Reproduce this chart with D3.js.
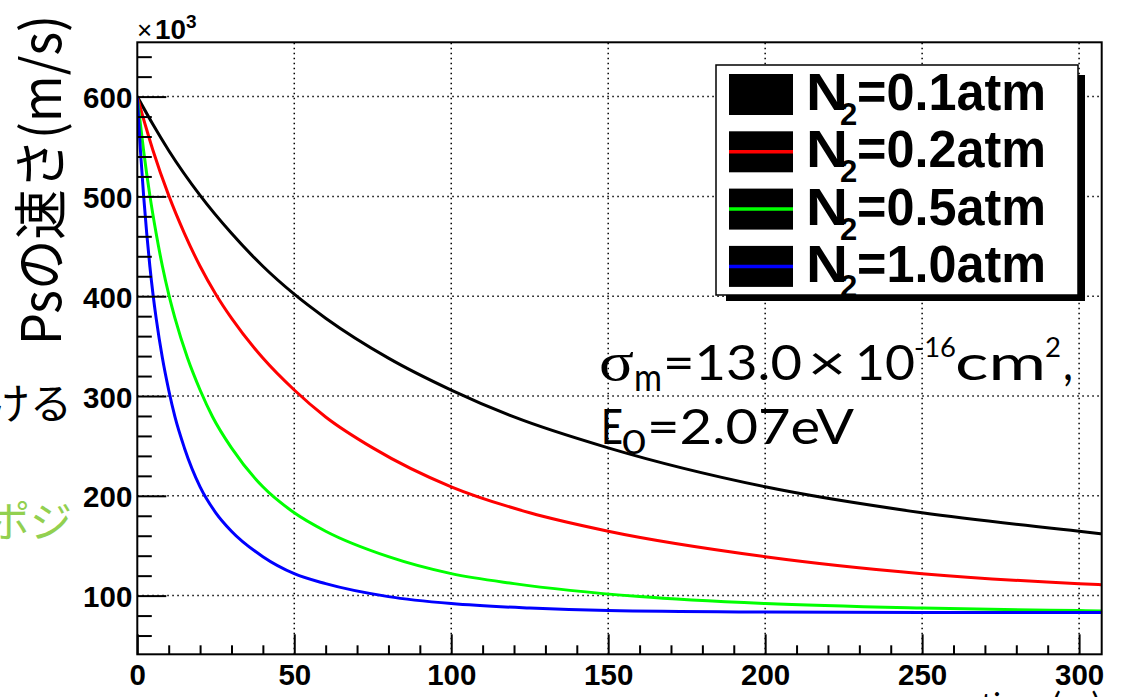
<!DOCTYPE html>
<html>
<head>
<meta charset="utf-8">
<script src="https://cdn.jsdelivr.net/npm/d3@7"></script>
<style>
  body { margin: 0; background: #fff; }
  svg { display: block; }
</style>
</head>
<body>
<svg id="chart" width="1121" height="697"></svg>
<script>
// Ps speed (x10^3 m/s) against time (ns) for four N2 pressures
const pressureLabels = ["0.1", "0.2", "0.5", "1.0"];
const seriesColors = ["#000000", "#ff0000", "#00ff00", "#0000ff"];

const timeN01 = [0, 5, 10, 20, 30, 40, 50, 60, 80, 100, 120, 150, 200, 250, 300, 307];
const speedN01 = [600, 572, 546, 501, 463, 430, 402, 378, 338, 306, 279, 248, 209, 183, 164.5, 162];

const timeN02 = [0, 2.5, 5, 10, 15, 20, 25, 30, 40, 50, 60, 75, 100, 125, 150, 200, 250, 300, 307];
const speedN02 = [600, 572, 546, 501, 463, 430, 402, 378, 338, 306, 279, 248, 209, 183, 164.5, 139, 122, 112, 111];

const timeN05 = [0, 1, 2, 4, 6, 8, 10, 12, 16, 20, 24, 30, 40, 50, 60, 80, 100, 120, 160, 200, 250, 300, 307];
const speedN05 = [600, 572, 546, 501, 463, 430, 402, 378, 338, 306, 279, 248, 209, 183, 164.5, 139, 122, 112, 99, 92, 87.5, 85, 84.7];

const timeN10 = [0, 0.5, 1, 2, 3, 4, 5, 6, 8, 10, 12, 15, 20, 25, 30, 40, 50, 60, 80, 100, 125, 150, 200, 250, 307];
const speedN10 = [600, 572, 546, 501, 463, 430, 402, 378, 338, 306, 279, 248, 209, 183, 164.5, 139, 122, 112, 99, 92, 87.5, 85, 83.5, 83, 83];

const xMajorTicks = [0, 50, 100, 150, 200, 250, 300];
const xMinorTicks = [10, 20, 30, 40, 60, 70, 80, 90, 110, 120, 130, 140, 160, 170, 180, 190, 210, 220, 230, 240, 260, 270, 280, 290];
const yMajorTicks = [100, 200, 300, 400, 500, 600];
const yMinorTicks = [60, 80, 120, 140, 160, 180, 220, 240, 260, 280, 320, 340, 360, 380, 420, 440, 460, 480, 520, 540, 560, 580, 620, 640];

const seriesTimes = [timeN01, timeN02, timeN05, timeN10];
const seriesSpeeds = [speedN01, speedN02, speedN05, speedN10];
const series = seriesTimes.map((ts, i) => ({
  label: pressureLabels[i],
  color: seriesColors[i],
  points: ts.map((t, j) => [t, seriesSpeeds[i][j]])
}));

const svg = d3.select("#chart");
const frame = { left: 137.3, right: 1101.7, top: 42.3, bottom: 654.3 };

const x = d3.scaleLinear().domain([0, 307.2]).range([frame.left, frame.right]);
const y = d3.scaleLinear().domain([41.2, 654.4]).range([frame.bottom, frame.top]);

const labelFont = "'Liberation Sans', Arial, Helvetica, sans-serif";
const thinFont = "Lato, 'Open Sans', sans-serif";
const jpFont = "'Noto Sans CJK JP', 'Noto Sans', sans-serif";

// slide text fragments on the left
svg.append("text")
  .attr("x", 72).attr("y", 419)
  .attr("text-anchor", "end")
  .attr("font-family", jpFont).attr("font-size", 42)
  .attr("fill", "#000")
  .text("ける");
svg.append("text")
  .attr("x", 72).attr("y", 537)
  .attr("text-anchor", "end")
  .attr("font-family", jpFont).attr("font-size", 42)
  .attr("fill", "#92d050")
  .text("ポジ");

// y-axis title
svg.append("text")
  .attr("transform", "translate(61,345) rotate(-90)")
  .attr("font-family", jpFont).attr("font-size", 54)
  .attr("textLength", 330).attr("lengthAdjust", "spacingAndGlyphs")
  .attr("fill", "#000")
  .text("Psの速さ(m/s)");

// grid
const grid = svg.append("g")
  .attr("stroke", "#000").attr("stroke-width", 1.5)
  .attr("stroke-dasharray", "1.5 3.5");
grid.selectAll("line.gx").data(xMajorTicks.filter(d => d > 0)).join("line")
  .attr("x1", d => x(d)).attr("x2", d => x(d))
  .attr("y1", frame.bottom).attr("y2", frame.top);
grid.selectAll("line.gy").data(yMajorTicks).join("line")
  .attr("x1", frame.left).attr("x2", frame.right)
  .attr("y1", d => y(d)).attr("y2", d => y(d));

// curves
svg.append("defs").append("clipPath").attr("id", "plotClip")
  .append("rect")
  .attr("x", frame.left).attr("y", frame.top)
  .attr("width", frame.right - frame.left).attr("height", frame.bottom - frame.top);

const line = d3.line()
  .x(d => x(d[0])).y(d => y(d[1]))
  .curve(d3.curveMonotoneX);

svg.append("g").attr("clip-path", "url(#plotClip)")
  .selectAll("path").data(series).join("path")
  .attr("d", d => line(d.points))
  .attr("fill", "none")
  .attr("stroke", d => d.color)
  .attr("stroke-width", 3);

// axes
function styleAxis(g) {
  g.select(".domain").remove();
  g.selectAll(".tick line").attr("stroke", "#000").attr("stroke-width", 2);
  g.selectAll("text")
    .attr("font-family", labelFont)
    .attr("font-weight", "bold")
    .attr("font-size", 29)
    .attr("fill", "#000")
    .attr("textLength", function () { return this.textContent.length * 16.4; })
    .attr("lengthAdjust", "spacingAndGlyphs");
}

svg.append("g")
  .attr("transform", `translate(${frame.left},0)`)
  .call(d3.axisLeft(y).tickValues(yMajorTicks).tickSizeInner(-29).tickSizeOuter(0).tickPadding(5))
  .call(styleAxis)
  .call(g => g.selectAll("text").attr("dy", "0.38em"));
svg.append("g")
  .attr("transform", `translate(${frame.left},0)`)
  .call(d3.axisLeft(y).tickValues(yMinorTicks).tickSizeInner(-14.5).tickSizeOuter(0).tickFormat(""))
  .call(styleAxis);

svg.append("g")
  .attr("transform", `translate(0,${frame.bottom})`)
  .call(d3.axisBottom(x).tickValues(xMajorTicks).tickSizeInner(-20).tickSizeOuter(0).tickPadding(10.3))
  .call(styleAxis);
svg.append("g")
  .attr("transform", `translate(0,${frame.bottom})`)
  .call(d3.axisBottom(x).tickValues(xMinorTicks).tickSizeInner(-9).tickSizeOuter(0).tickFormat(""))
  .call(styleAxis);

// frame
svg.append("rect")
  .attr("x", frame.left).attr("y", frame.top)
  .attr("width", frame.right - frame.left).attr("height", frame.bottom - frame.top)
  .attr("fill", "none").attr("stroke", "#000").attr("stroke-width", 2);

// axis multiplier
const mult = svg.append("g").attr("font-family", labelFont).attr("fill", "#000");
mult.append("text").attr("x", 137).attr("y", 39).attr("font-size", 26).text("×");
mult.append("text").attr("x", 155).attr("y", 39).attr("font-size", 27).attr("font-weight", "bold")
  .attr("textLength", 31).attr("lengthAdjust", "spacingAndGlyphs").text("10");
mult.append("text").attr("x", 186).attr("y", 28).attr("font-size", 19).attr("font-weight", "bold").text("3");

// x-axis title (mostly below the visible area)
svg.append("text")
  .attr("x", 1100).attr("y", 716)
  .attr("text-anchor", "end")
  .attr("font-family", thinFont).attr("font-size", 32)
  .attr("fill", "#000")
  .text("time (ns)");

// legend
const legend = svg.append("g");
legend.append("rect")
  .attr("x", 726).attr("y", 75).attr("width", 359).attr("height", 226)
  .attr("fill", "#000");
legend.append("rect")
  .attr("x", 716).attr("y", 65).attr("width", 362).attr("height", 230)
  .attr("fill", "#fff").attr("stroke", "#000").attr("stroke-width", 1.5);

const rows = legend.selectAll("g.row").data(series).join("g")
  .attr("class", "row")
  .attr("transform", (d, i) => `translate(0,${i * 57.3})`);
rows.append("rect")
  .attr("x", 729).attr("y", 74).attr("width", 64).attr("height", 41)
  .attr("fill", "#000");
rows.append("line")
  .attr("x1", 729).attr("x2", 793).attr("y1", 94.5).attr("y2", 94.5)
  .attr("stroke", d => d.color).attr("stroke-width", 3.5);
const rowText = rows.append("g")
  .attr("font-family", labelFont).attr("font-weight", "bold").attr("fill", "#000");
rowText.append("text").attr("x", 806).attr("y", 110).attr("font-size", 51)
  .attr("textLength", 42).attr("lengthAdjust", "spacingAndGlyphs").text("N");
rowText.append("text").attr("x", 840).attr("y", 125).attr("font-size", 31).text("2");
rowText.append("text").attr("x", 857).attr("y", 110).attr("font-size", 51)
  .attr("textLength", 189).attr("lengthAdjust", "spacingAndGlyphs")
  .text(d => `=${d.label}atm`);

// parameter annotation
const note = svg.append("g").attr("fill", "#000").attr("font-family", thinFont);
function piece(str, px, py, size, len, family) {
  const t = note.append("text").attr("x", px).attr("y", py).attr("font-size", size).text(str);
  if (len) t.attr("textLength", len).attr("lengthAdjust", "spacingAndGlyphs");
  if (family) t.attr("font-family", family);
  return t;
}
piece("σ", 599, 380, 54, 35, "'Liberation Serif', 'DejaVu Serif', serif");
piece("m", 634, 391, 38, 28);
piece("=13.0", 663, 380, 48, 139);
piece("×", 808, 380, 48, 38);
piece("10", 855, 380, 48, 60);
piece("-16", 914, 357, 26, 42);
piece("cm", 955, 380, 48, 91);
piece("2", 1045, 357, 26, 16);
piece(",", 1063, 380, 48, 10);
piece("E", 601, 444, 48, 22);
piece("0", 622, 454, 32, 24);
piece("=2.07eV", 647, 444, 48, 207);
</script>
</body>
</html>
